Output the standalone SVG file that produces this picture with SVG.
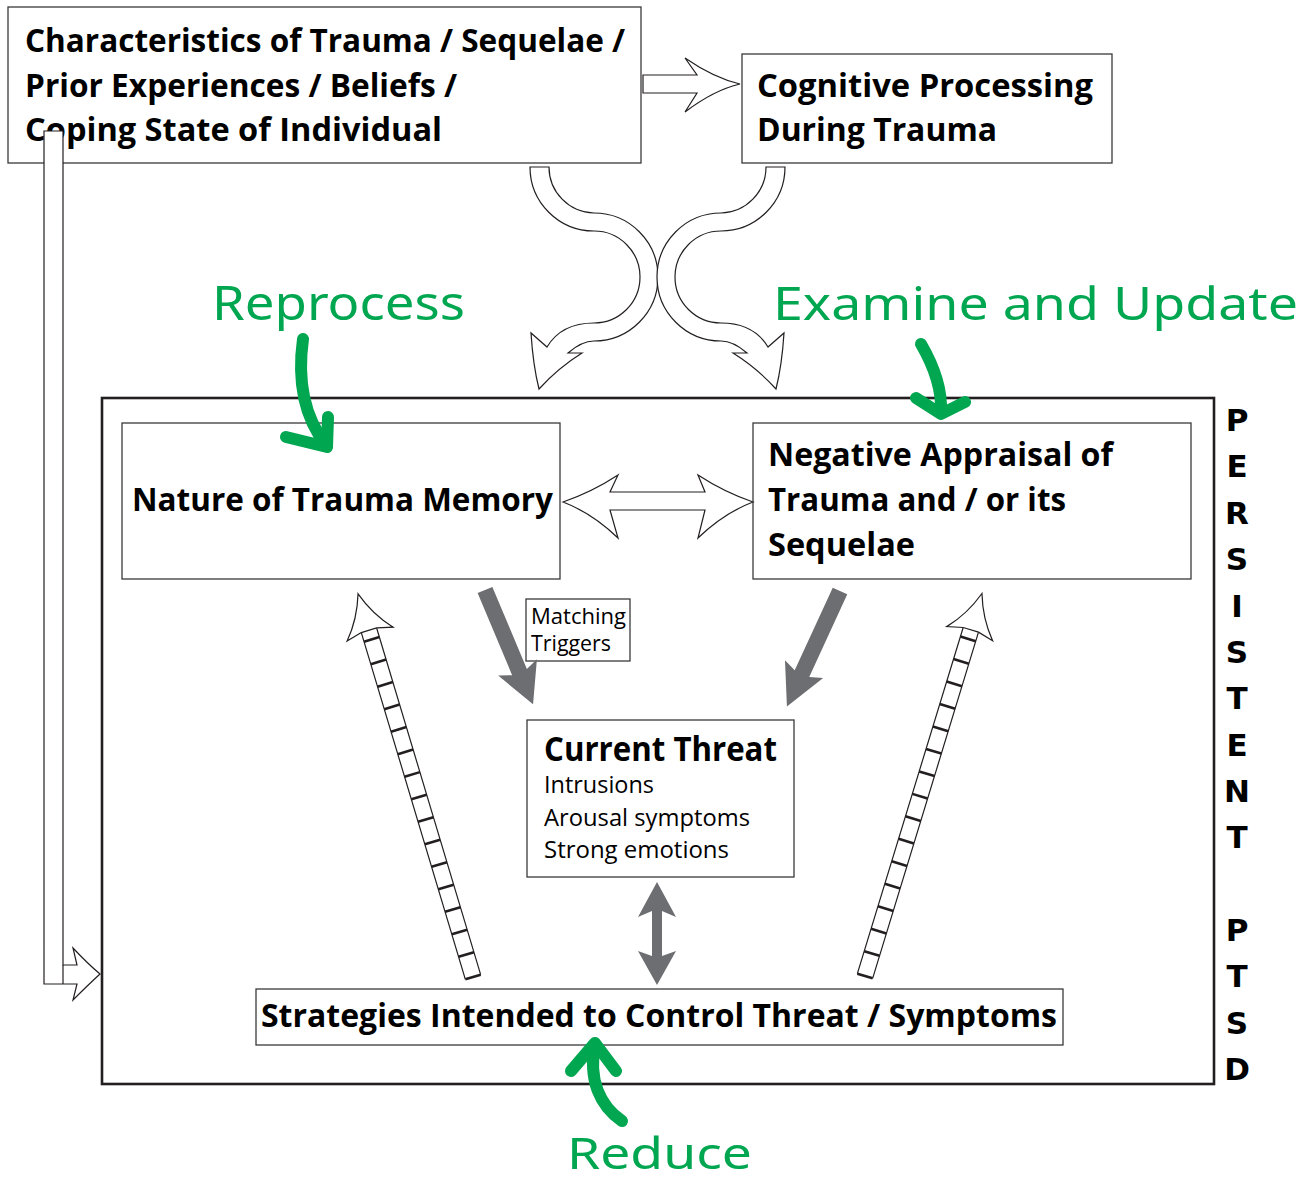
<svg xmlns="http://www.w3.org/2000/svg" width="1311" height="1180" viewBox="0 0 1311 1180">
<style>
.box{fill:#fff;stroke:#3a3a3a;stroke-width:1.3}
.frame{fill:none;stroke:#231f20;stroke-width:2.6}
.t{font-family:"Open Sans","Noto Sans",sans-serif;font-weight:700;fill:#000}
.r{font-family:"Open Sans","Noto Sans",sans-serif;font-weight:400;fill:#000}
.v{font-family:"DejaVu Sans",sans-serif;font-weight:700;font-size:31px;fill:#000;text-anchor:middle}
.g{font-family:"Noto Sans","Open Sans",sans-serif;font-weight:400;fill:#00a650}
.hollow{fill:#fff;stroke:#231f20;stroke-width:1.2;stroke-linejoin:miter}
.gray{fill:#6d6e71;stroke:none}
.rail{stroke:#231f20;stroke-width:1.2;fill:none}
.rung{stroke:#231f20;stroke-width:2.6;fill:none}
.green{fill:none;stroke:#00a650;stroke-width:12;stroke-linecap:round;stroke-linejoin:round}
</style>
<defs>
<g id="ladder">
<path class="rail" d="M-8,0 V-362 M8,0 V-362"/>
<path class="rung" d="M-8,0H8M-8,-23.5H8M-8,-47H8M-8,-70.5H8M-8,-94H8M-8,-117.5H8M-8,-141H8M-8,-164.5H8M-8,-188H8M-8,-211.5H8M-8,-235H8M-8,-258.5H8M-8,-282H8M-8,-305.5H8M-8,-329H8M-8,-352.5H8"/>
<path class="hollow" d="M-8,-362 L-24,-358 Q-8,-376 0,-400 Q8,-376 24,-358 L8,-362 Z"/>
</g>
<path id="sarrow" class="hollow" d="M530,167 A64,64 0 0 0 594,231 A46,46 0 0 1 594,323 C572,323 556,332 547,347 L531,333 Q533,365 539,389 Q558,368 582,353 L568,353 C576,346 584,341 594,341 A64,64 0 0 0 594,213 A46,46 0 0 1 549,167 Z"/>
</defs>

<!-- outer frame -->
<rect class="frame" x="102" y="398" width="1112" height="686"/>

<g id="node-characteristics">
<rect class="box" x="8" y="7" width="633" height="156"/>
<text class="t" font-size="32" x="25" y="52" textLength="600" lengthAdjust="spacingAndGlyphs">Characteristics of Trauma / Sequelae /</text>
<text class="t" font-size="32" x="25" y="97" textLength="432" lengthAdjust="spacingAndGlyphs">Prior Experiences / Beliefs /</text>
<text class="t" font-size="32" x="25" y="141" textLength="417" lengthAdjust="spacingAndGlyphs">Coping State of Individual</text>
</g>

<g id="node-cognitive">
<rect class="box" x="742" y="54" width="370" height="109"/>
<text class="t" font-size="32" x="757" y="97" textLength="336" lengthAdjust="spacingAndGlyphs">Cognitive Processing</text>
<text class="t" font-size="32" x="757" y="141" textLength="240" lengthAdjust="spacingAndGlyphs">During Trauma</text>
</g>

<g id="node-memory">
<rect class="box" x="122" y="423" width="438" height="156"/>
<text class="t" font-size="32" x="132" y="511" textLength="421" lengthAdjust="spacingAndGlyphs">Nature of Trauma Memory</text>
</g>

<g id="node-appraisal">
<rect class="box" x="753" y="423" width="438" height="156"/>
<text class="t" font-size="32" x="768" y="466" textLength="345" lengthAdjust="spacingAndGlyphs">Negative Appraisal of</text>
<text class="t" font-size="32" x="768" y="511" textLength="298" lengthAdjust="spacingAndGlyphs">Trauma and / or its</text>
<text class="t" font-size="32" x="768" y="556" textLength="147" lengthAdjust="spacingAndGlyphs">Sequelae</text>
</g>

<g id="node-triggers">
<rect class="box" x="526" y="599" width="104" height="62"/>
<text class="r" font-size="21" x="531" y="624" textLength="95" lengthAdjust="spacingAndGlyphs">Matching</text>
<text class="r" font-size="21" x="531" y="651" textLength="80" lengthAdjust="spacingAndGlyphs">Triggers</text>
</g>

<g id="node-threat">
<rect class="box" x="527" y="720" width="267" height="157"/>
<text class="t" font-size="34" x="544" y="761" textLength="233" lengthAdjust="spacingAndGlyphs">Current Threat</text>
<text class="r" font-size="23" x="544" y="793" textLength="110" lengthAdjust="spacingAndGlyphs">Intrusions</text>
<text class="r" font-size="23" x="544" y="826" textLength="206" lengthAdjust="spacingAndGlyphs">Arousal symptoms</text>
<text class="r" font-size="23" x="544" y="858" textLength="185" lengthAdjust="spacingAndGlyphs">Strong emotions</text>
</g>

<g id="node-strategies">
<rect class="box" x="256" y="989" width="807" height="56"/>
<text class="t" font-size="32" x="261" y="1027" textLength="796" lengthAdjust="spacingAndGlyphs">Strategies Intended to Control Threat / Symptoms</text>
</g>

<g id="label-persistent-ptsd">
<text class="v" x="1237" y="431">P</text>
<text class="v" x="1237" y="477">E</text>
<text class="v" x="1237" y="524">R</text>
<text class="v" x="1237" y="570">S</text>
<text class="v" x="1237" y="617">I</text>
<text class="v" x="1237" y="663">S</text>
<text class="v" x="1237" y="709">T</text>
<text class="v" x="1237" y="756">E</text>
<text class="v" x="1237" y="802">N</text>
<text class="v" x="1237" y="848">T</text>
<text class="v" x="1237" y="941">P</text>
<text class="v" x="1237" y="987">T</text>
<text class="v" x="1237" y="1034">S</text>
<text class="v" x="1237" y="1080">D</text>
</g>

<g id="connectors">
<!-- hollow arrow to Cognitive Processing -->
<path class="hollow" d="M643,75 L697,75 L685,58 Q714,78 740,84 Q714,90 685,112 L697,93 L643,93 Z"/>
<!-- L-shaped arrow from characteristics to frame -->
<path class="hollow" d="M44,131 L63,131 L63,965 L77,965 L73,948 Q88,964 100,974 Q88,985 73,1000 L77,984 L44,984 Z"/>
<path class="rail" d="M63,965 V984"/>
<!-- S arrows -->
<use href="#sarrow"/>
<use href="#sarrow" transform="translate(1315,0) scale(-1,1)"/>
<!-- double hollow horizontal arrow -->
<path class="hollow" d="M563,502 Q592,492 618,475 L610,492 L705,492 L698,475 Q724,492 753,502 Q724,513 698,538 L705,510 L610,510 L618,538 Q592,513 563,502 Z"/>
<!-- gray arrows -->
<polygon class="gray" transform="translate(485,590) rotate(67.2)" points="0,-8 89,-8 84,-21 124,0 84,21 89,8 0,8"/>
<polygon class="gray" transform="translate(840,591) rotate(114.7)" points="0,-8 91,-8 86,-21 127,0 86,21 91,8 0,8"/>
<polygon class="gray" points="657,882 676,917 662,911 662,956 676,951 657,985 638,951 652,956 652,911 638,917"/>
<!-- ladders -->
<use href="#ladder" transform="translate(473,977) rotate(-16.7)"/>
<use href="#ladder" transform="translate(865,976) rotate(17)"/>
<!-- green arrows -->
<path class="green" d="M303,339 C297,382 305,418 326,445"/>
<path class="green" d="M286,437 L327,447 L328,417"/>
<path class="green" d="M921,344 C935,368 942,390 941,412"/>
<path class="green" d="M916,398 L941,414 L965,402"/>
<path class="green" d="M622,1121 C600,1106 588,1080 595,1044"/>
<path class="green" d="M571,1071 L595,1043 L616,1071"/>
</g>

<g id="green-labels">
<text class="g" font-size="48" x="212" y="320" textLength="253" lengthAdjust="spacingAndGlyphs">Reprocess</text>
<text class="g" font-size="46" x="773" y="320" textLength="525" lengthAdjust="spacingAndGlyphs">Examine and Update</text>
<text class="g" font-size="44" x="567" y="1169" textLength="185" lengthAdjust="spacingAndGlyphs">Reduce</text>
</g>
</svg>
